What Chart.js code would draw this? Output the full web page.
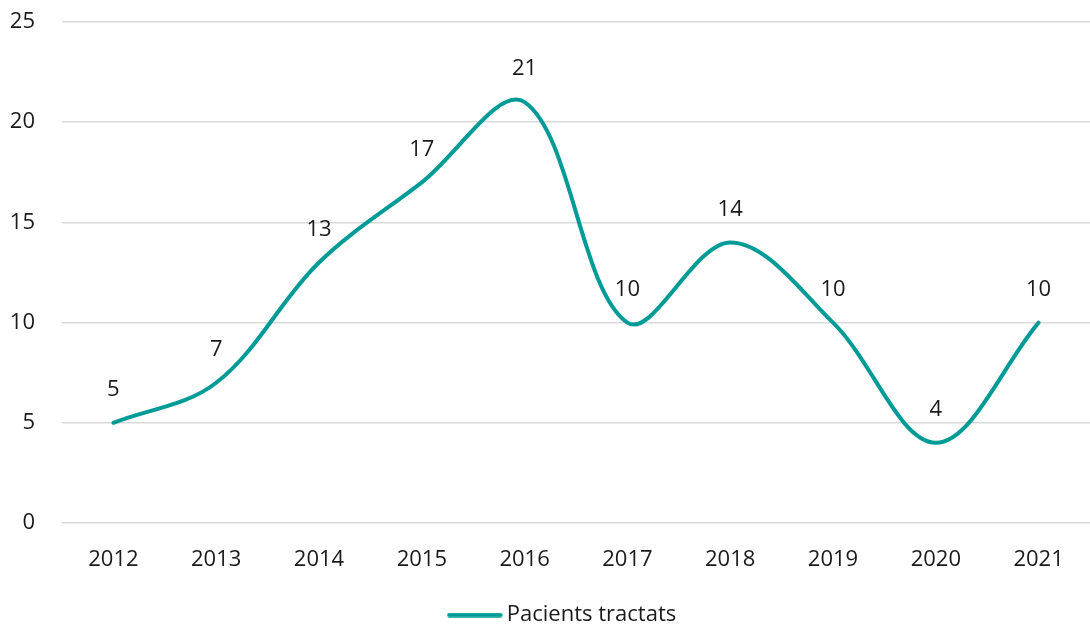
<!DOCTYPE html>
<html>
<head>
<meta charset="utf-8">
<script src="https://cdn.jsdelivr.net/npm/chart.js@4"></script>
<style>
html,body{margin:0;padding:0;background:#fff;}
#wrap{width:1090px;height:629px;position:relative;}
</style>
</head>
<body>
<div id="wrap"><canvas id="c"></canvas></div>
<script>
const years = ['2012','2013','2014','2015','2016','2017','2018','2019','2020','2021'];
const patients = [5, 7, 13, 17, 21, 10, 14, 10, 4, 10];
const seriesName = 'Pacients tractats';
const yTicks = [0, 5, 10, 15, 20, 25];

const FONT = "'Open Sans', 'Noto Sans', sans-serif";
const TEAL = '#009B96';
const TEXT = '#1a1a1a';

// legend line swatch (56px long, round caps)
const swatch = document.createElement('canvas');
swatch.width = 56; swatch.height = 5;
(function () {
  const g = swatch.getContext('2d');
  g.strokeStyle = TEAL; g.lineWidth = 4.5; g.lineCap = 'round';
  g.beginPath(); g.moveTo(2.5, 2.5); g.lineTo(53.5, 2.5); g.stroke();
})();

const valueLabels = {
  id: 'valueLabels',
  afterDatasetsDraw(chart) {
    const ctx = chart.ctx;
    const meta = chart.getDatasetMeta(0);
    ctx.save();
    ctx.font = '22px ' + FONT;
    ctx.fillStyle = TEXT;
    ctx.textAlign = 'center';
    ctx.textBaseline = 'middle';
    meta.data.forEach((pt, i) => {
      ctx.fillText(String(patients[i]), pt.x, pt.y - 33);
    });
    ctx.restore();
  }
};

// centre the legend over a slightly right-shifted span, as in the reference
const legendShift = {
  id: 'legendShift',
  afterLayout(chart) {
    if (chart.legend) chart.legend.left += 40;
  }
};

new Chart(document.getElementById('c'), {
  type: 'line',
  data: {
    labels: years,
    datasets: [{
      label: seriesName,
      data: patients,
      borderColor: TEAL,
      backgroundColor: TEAL,
      borderWidth: 4,
      borderCapStyle: 'round',
      tension: 0.35,
      pointRadius: 0,
      pointHoverRadius: 0,
      pointStyle: swatch,
      fill: false
    }]
  },
  options: {
    responsive: true,
    maintainAspectRatio: false,
    animation: false,
    layout: { padding: { top: 22, right: 0, left: 0, bottom: -7 } },
    plugins: {
      tooltip: { enabled: false },
      legend: {
        position: 'bottom',
        labels: {
          usePointStyle: true,
          pointStyleWidth: 42,
          boxHeight: 5,
          color: TEXT,
          font: { family: FONT, size: 22 },
          padding: 0
        }
      }
    },
    scales: {
      x: {
        offset: true,
        grid: { display: false, drawTicks: false },
        border: { display: false },
        ticks: { color: TEXT, font: { family: FONT, size: 22 }, padding: 24, maxRotation: 0 },
        afterFit(s) { s.height = 81; }
      },
      y: {
        min: 0,
        max: 25,
        afterBuildTicks(s) { s.ticks = yTicks.map(v => ({ value: v })); },
        grid: { color: '#d9d9d9', lineWidth: 1.5, drawTicks: true, tickLength: 25, tickColor: 'rgba(0,0,0,0)' },
        border: { display: false },
        ticks: { color: TEXT, font: { family: FONT, size: 22 }, padding: 2 },
        afterFit(s) { s.width = 62; }
      }
    }
  },
  plugins: [valueLabels, legendShift]
});
</script>
</body>
</html>
